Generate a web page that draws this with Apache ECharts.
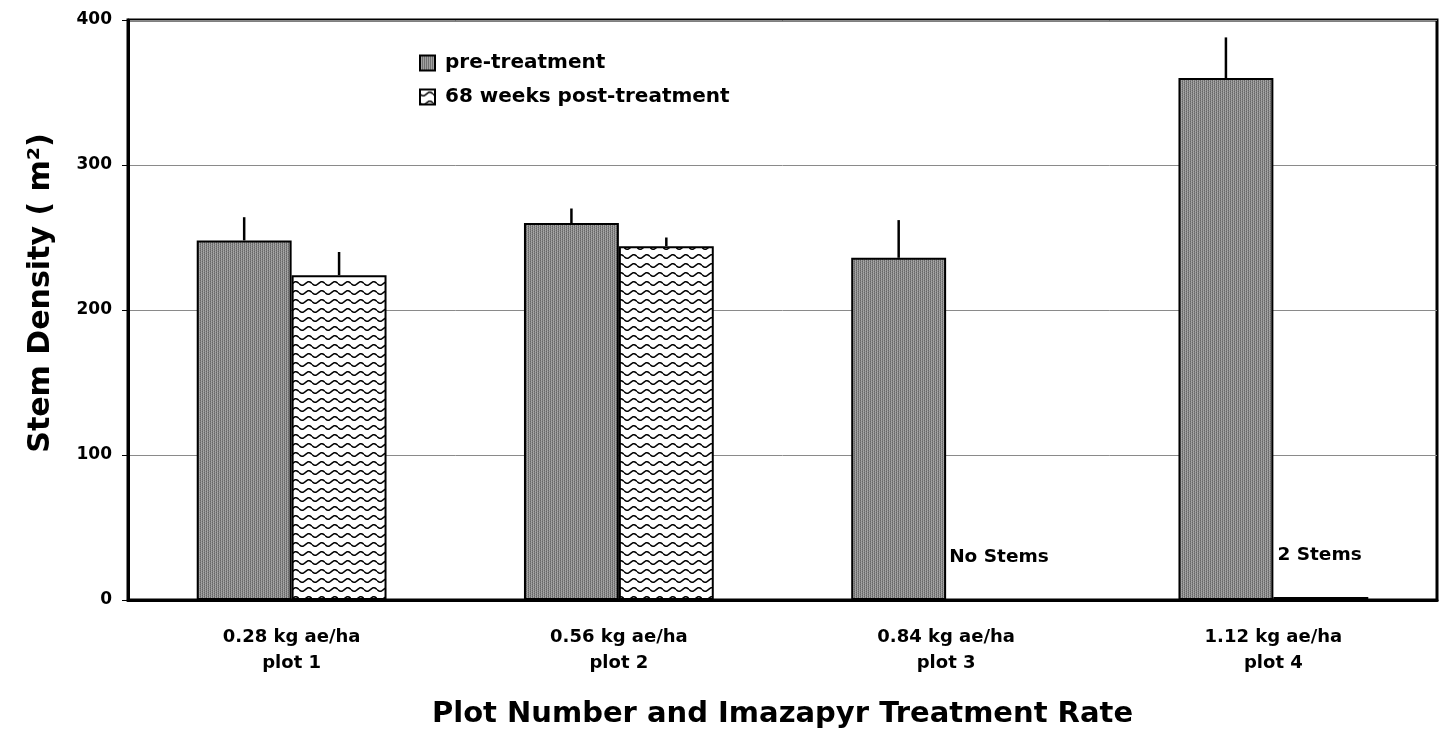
<!DOCTYPE html>
<html>
<head>
<meta charset="utf-8">
<script src="https://cdn.jsdelivr.net/npm/echarts@6/dist/echarts.min.js"></script>
<style>
  html, body { margin: 0; padding: 0; background: #fff; }
  #chart { width: 1443px; height: 732px; }
</style>
</head>
<body>
<div id="chart"></div>
<script>
// categories and values
const categories = [
    '0.28 kg ae/ha\nplot 1',
    '0.56 kg ae/ha\nplot 2',
    '0.84 kg ae/ha\nplot 3',
    '1.12 kg ae/ha\nplot 4'
];
const preValues = [248, 260, 236, 360];
const preErrTop = [264, 270, 262, 388];
const postValues = [224, 244, 0, 2];
const postErrTop = [240, 250, null, null];
const postNotes = ['', '', 'No Stems', '2 Stems'];
const yTicks = [0, 100, 200, 300, 400];

const FONT = '"DejaVu Sans", "Liberation Sans", Arial, sans-serif';

// stippled gray fill for pre-treatment bars
const makeStipple = () => {
    const c = document.createElement('canvas');
    c.width = 4; c.height = 4;
    const ctx = c.getContext('2d');
    const shades = ['#666666', '#aaaaaa', '#7c7c7c', '#989898'];
    for (let y = 0; y < 4; y++) {
        for (let x = 0; x < 4; x++) {
            ctx.fillStyle = shades[(x + y * 2) % 4];
            ctx.fillRect(x, y, 1, 1);
        }
    }
    return c;
};

// white fill with small black waves for post-treatment bars
const makeWaves = () => {
    const c = document.createElement('canvas');
    c.width = 13; c.height = 9;
    const ctx = c.getContext('2d');
    ctx.fillStyle = '#fff';
    ctx.fillRect(0, 0, 13, 9);
    ctx.strokeStyle = '#000';
    ctx.lineWidth = 1.5;
    ctx.beginPath();
    for (let x = 0; x <= 13; x++) {
        const y = 4.5 + 1.8 * Math.sin(x / 13 * Math.PI * 2);
        if (x === 0) ctx.moveTo(x, y); else ctx.lineTo(x, y);
    }
    ctx.stroke();
    return c;
};

const BAR_W = 0.29;

const errData = (tops, vals) => tops
    .map((t, i) => (t == null ? null : [i, vals[i], t]))
    .filter(d => d);

const errorSeries = (name, data, side) => ({
    type: 'custom',
    name: name,
    z: 5,
    silent: true,
    data: data,
    encode: { x: 0, y: [1, 2] },
    renderItem: (params, api) => {
        const base = api.coord([api.value(0), api.value(1)]);
        const top = api.coord([api.value(0), api.value(2)]);
        const bw = api.size([1, 0])[0] * BAR_W;
        const x = base[0] + side * bw / 2;
        return {
            type: 'line',
            shape: { x1: x, y1: base[1], x2: x, y2: top[1] },
            style: { stroke: '#000', lineWidth: 2.5 }
        };
    }
});

const chart = echarts.init(document.getElementById('chart'), null, { renderer: 'canvas' });

const preFill = { image: makeStipple(), repeat: 'repeat' };
const postFill = { image: makeWaves(), repeat: 'repeat' };

const options = {
    animation: false,
    backgroundColor: '#fff',
    textStyle: { fontFamily: FONT },
    grid: {
        left: 128, right: 6, top: 20, bottom: 132,
        outerBoundsMode: 'none',
        containLabel: false,
        show: true, borderColor: '#000', borderWidth: 3
    },
    legend: {
        orient: 'vertical',
        left: 414, top: 48,
        itemWidth: 15, itemHeight: 15, itemGap: 14,
        icon: 'rect',
        data: ['pre-treatment', '68 weeks post-treatment'],
        textStyle: { fontFamily: FONT, fontSize: 20, fontWeight: 'bold', color: '#000', padding: [0, 0, 0, 5] }
    },
    xAxis: {
        type: 'category',
        data: categories,
        name: 'Plot Number and Imazapyr Treatment Rate',
        nameLocation: 'middle',
        nameGap: 100,
        nameTextStyle: { fontFamily: FONT, fontSize: 29, fontWeight: 'bold', color: '#000' },
        axisLine: { lineStyle: { color: '#000', width: 3 } },
        axisTick: { length: 8, lineStyle: { color: '#000', width: 2 } },
        axisLabel: {
            margin: 24, fontFamily: FONT, fontSize: 18, fontWeight: 'bold',
            color: '#000', lineHeight: 26
        }
    },
    yAxis: {
        type: 'value',
        min: yTicks[0], max: yTicks[yTicks.length - 1], interval: 100,
        name: 'Stem Density ( m²)',
        nameLocation: 'middle',
        nameGap: 72,
        nameRotate: 90,
        nameTextStyle: {
            fontFamily: FONT, fontSize: 30, fontWeight: 'bold', color: '#000',
            padding: [0, 0, 0, 34]
        },
        axisLine: { show: true, lineStyle: { color: '#000', width: 3 } },
        axisTick: { show: true, length: 6, lineStyle: { color: '#000', width: 1 } },
        axisLabel: { margin: 16, fontFamily: FONT, fontSize: 17, fontWeight: 'bold', color: '#000' },
        splitLine: { lineStyle: { color: '#8a8a8a', width: 1 } }
    },
    series: [
        {
            name: 'pre-treatment',
            type: 'bar',
            barWidth: (BAR_W * 100) + '%',
            barGap: '0%',
            data: preValues,
            itemStyle: { color: preFill, borderColor: '#000', borderWidth: 2 }
        },
        {
            name: '68 weeks post-treatment',
            type: 'bar',
            barWidth: (BAR_W * 100) + '%',
            data: postValues.map((v, i) => ({
                value: v,
                label: {
                    show: postNotes[i] !== '',
                    formatter: postNotes[i],
                    position: [4, -42],
                    align: 'left',
                    verticalAlign: 'middle',
                    fontFamily: FONT, fontSize: 18.5, fontWeight: 'bold', color: '#000'
                }
            })),
            itemStyle: { color: postFill, borderColor: '#000', borderWidth: 2 }
        },
        errorSeries('pre-err', errData(preErrTop, preValues), -1),
        errorSeries('post-err', errData(postErrTop, postValues), 1)
    ]
};

chart.setOption(options);

window.addEventListener('resize', () => {
    chart.resize();
});
</script>
</body>
</html>
